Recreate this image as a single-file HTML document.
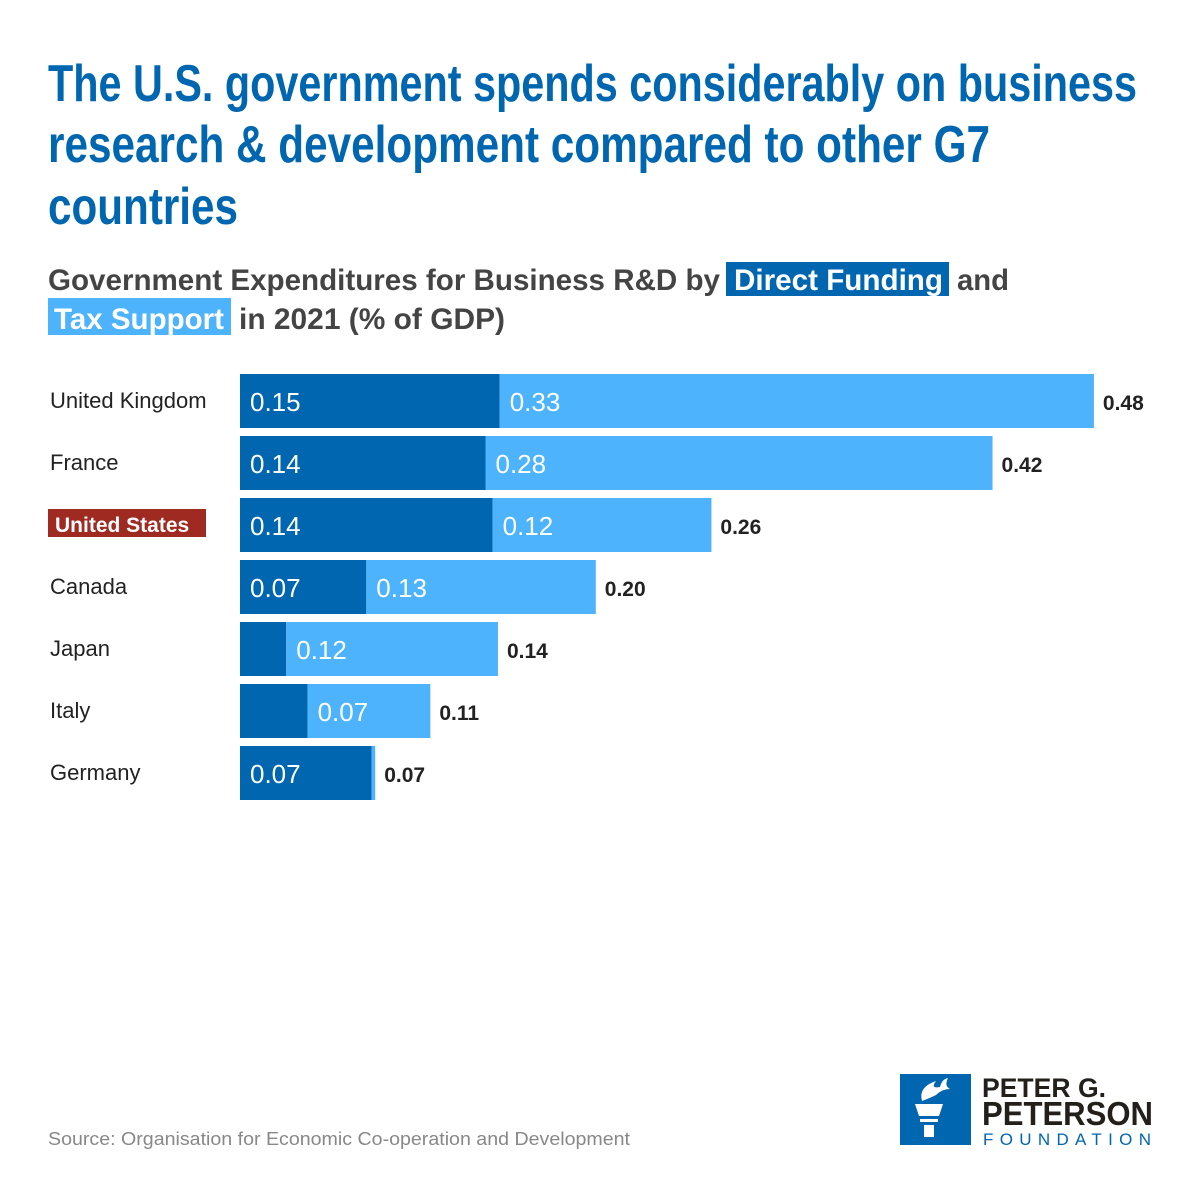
<!DOCTYPE html>
<html><head><meta charset="utf-8"><style>body{margin:0;background:#fff}svg{display:block}</style></head>
<body>
<svg id="chart" width="1200" height="1200" viewBox="0 0 1200 1200" xmlns="http://www.w3.org/2000/svg" font-family="Liberation Sans, sans-serif">
<rect width="1200" height="1200" fill="#fff"/>
<g fill="#0066b0" font-family="Liberation Sans Narrow, Liberation Sans, sans-serif" font-weight="bold" font-size="52">
<text x="48" y="101" textLength="1089" lengthAdjust="spacingAndGlyphs">The U.S. government spends considerably on business</text>
<text x="48" y="162" textLength="942" lengthAdjust="spacingAndGlyphs">research &amp; development compared to other G7</text>
<text x="48" y="224" textLength="190" lengthAdjust="spacingAndGlyphs">countries</text>
</g>
<g font-size="30" font-weight="bold" fill="#444">
<rect x="726" y="262" width="223" height="34" fill="#0066b0"/>
<rect x="48" y="298" width="183" height="37" fill="#4db3fc"/>
<text x="48" y="290" textLength="672" lengthAdjust="spacingAndGlyphs">Government Expenditures for Business R&amp;D by</text>
<text x="734" y="290" fill="#fff" textLength="209" lengthAdjust="spacingAndGlyphs">Direct Funding</text>
<text x="957" y="290" textLength="52" lengthAdjust="spacingAndGlyphs">and</text>
<text x="54" y="329" fill="#fff" textLength="170" lengthAdjust="spacingAndGlyphs">Tax Support</text>
<text x="239" y="329" textLength="266" lengthAdjust="spacingAndGlyphs">in 2021 (% of GDP)</text>
</g>
<g id="bars"></g>
<text x="48" y="1145" font-size="18" fill="#888" textLength="582" lengthAdjust="spacingAndGlyphs">Source: Organisation for Economic Co-operation and Development</text>
<g>
<rect x="900" y="1074" width="71" height="71" fill="#0066b0"/>
<path d="M915 1104 h28 l-4 12 h-20 z M920 1119 h18 v3 h-18z M924 1125 h10 v12 h-10z" fill="#fff"/>
<path d="M922 1101 q-4 -14 14 -20 q-6 8 4 6 q2 -8 8 -9 q-4 8 2 11 q-8 0 -14 6 q-6 3 -14 6z" fill="#fff"/>
<text x="982" y="1097" font-size="27" font-weight="bold" fill="#231f1a" font-family="Liberation Sans Narrow, Liberation Sans, sans-serif" textLength="124" lengthAdjust="spacingAndGlyphs">PETER G.</text>
<text x="982" y="1125" font-size="33" font-weight="bold" fill="#231f1a" font-family="Liberation Sans Narrow, Liberation Sans, sans-serif" textLength="171" lengthAdjust="spacingAndGlyphs">PETERSON</text>
<text x="983" y="1145" font-size="17" fill="#0066b0" textLength="168" lengthAdjust="spacing">FOUNDATION</text>
</g>
</svg>
<script>
const countries=["United Kingdom","France","United States","Canada","Japan","Italy","Germany"];
const directValues=[0.146,0.138,0.142,0.071,0.026,0.038,0.074];
const taxValues=[0.334,0.285,0.123,0.129,0.119,0.069,0.002];
const directLabels=["0.15","0.14","0.14","0.07","","","0.07"];
const taxLabels=["0.33","0.28","0.12","0.13","0.12","0.07",""];
const totalLabels=["0.48","0.42","0.26","0.20","0.14","0.11","0.07"];
const NS="http://www.w3.org/2000/svg";
const x0=240,pxPerUnit=1779,rowTop=374,rowStep=62,barH=54;
const xs=v=>x0+v*pxPerUnit;
const ys=i=>rowTop+i*rowStep;
const g=document.getElementById('bars');
function mk(tag,attrs){const e=document.createElementNS(NS,tag);for(const k in attrs)e.setAttribute(k,attrs[k]);return e;}
countries.forEach((c,i)=>{
  const y=ys(i);
  if(c==="United States"){
    const r=mk('rect',{x:48,y:y+136-136+137-137+ -0+0+ (y===0?0:0)+ 137-137 ,width:0,height:0});
    r.setAttribute('x',48);r.setAttribute('y',y+11);r.setAttribute('width',158);r.setAttribute('height',28);r.setAttribute('fill','#9e2a22');
    
    
    g.appendChild(r);
  }
  const lab=mk('text',{x:c==="United States"?55:50,y:y+34,'font-size':c==="United States"?21:22,fill:c==="United States"?'#fff':'#222','font-weight':c==="United States"?'bold':'normal'});
  lab.textContent=c;
  
  
  g.appendChild(lab);
  const d=mk('rect',{x:xs(0),y:y,width:xs(directValues[i])-xs(0),height:barH,fill:'#0066b0'});
  
  
  g.appendChild(d);
  const t=mk('rect',{x:xs(directValues[i]),y:y,width:xs(directValues[i]+taxValues[i])-xs(directValues[i]),height:barH,fill:'#4db3fc'});
  
  
  g.appendChild(t);
  if(directLabels[i]){const e=mk('text',{x:xs(0)+10,y:y+37,'font-size':26,fill:'#fff'});e.textContent=directLabels[i];
    
    
    g.appendChild(e);}
  if(taxLabels[i]){const e=mk('text',{x:xs(directValues[i])+10,y:y+37,'font-size':26,fill:'#fff'});e.textContent=taxLabels[i];
    
    
    g.appendChild(e);}
  const tot=mk('text',{x:xs(directValues[i]+taxValues[i])+9,y:y+36,'font-size':21,'font-weight':'bold',fill:'#222'});
  tot.textContent=totalLabels[i];
  
  
  g.appendChild(tot);
});
</script>
</body></html>
